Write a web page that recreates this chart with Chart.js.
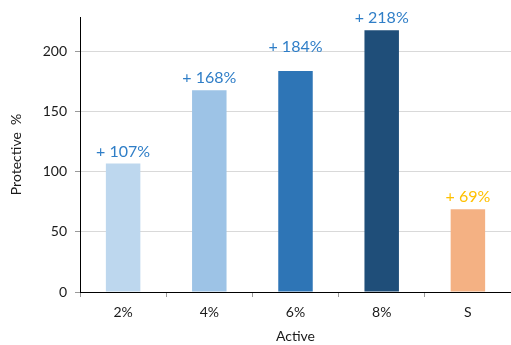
<!DOCTYPE html>
<html>
<head>
<meta charset="utf-8">
<script src="https://cdn.jsdelivr.net/npm/chart.js@4"></script>
<style>
  html, body { margin: 0; padding: 0; background: #fff; }
  #wrap { width: 511px; height: 345px; }
</style>
</head>
<body>
<div id="wrap"><canvas id="chart"></canvas></div>
<script>
const categories = ["2%", "4%", "6%", "8%", "S"];
const protective = [107, 168, 184, 218, 69];
const gainLabels = ["+ 107%", "+ 168%", "+ 184%", "+ 218%", "+ 69%"];
const yTicks = [0, 50, 100, 150, 200];

const barColors = ["#BDD7EE", "#9DC3E6", "#2E75B6", "#1F4E79", "#F4B183"];
const labelColors = ["#2F7EC7", "#2F7EC7", "#2F7EC7", "#2F7EC7", "#FFC000"];
// the 6% label sits a little higher than the others
const labelLift = [0, 0, 12, 0, 0];

const FONT = "Lato, 'Open Sans', sans-serif";

const barLabels = {
  id: "barLabels",
  afterDatasetsDraw(chart) {
    const ctx = chart.ctx;
    const meta = chart.getDatasetMeta(0);
    ctx.save();
    ctx.font = "16px " + FONT;
    ctx.textAlign = "center";
    ctx.textBaseline = "bottom";
    meta.data.forEach((bar, i) => {
      ctx.fillStyle = labelColors[i];
      ctx.fillText(gainLabels[i], bar.x, bar.y - 4 - labelLift[i]);
    });
    ctx.restore();
  }
};

new Chart(document.getElementById("chart"), {
  type: "bar",
  data: {
    labels: categories,
    datasets: [{
      data: protective,
      backgroundColor: barColors,
      borderWidth: 0,
      categoryPercentage: 1,
      barPercentage: 0.4
    }]
  },
  options: {
    responsive: true,
    maintainAspectRatio: false,
    animation: false,
    layout: { padding: { top: 17, right: 0, left: 0, bottom: 0 } },
    plugins: { legend: { display: false }, tooltip: { enabled: false } },
    scales: {
      x: {
        border: { color: "#000", width: 1 },
        grid: {
          offset: true,
          drawOnChartArea: false,
          tickLength: 5,
          tickColor: "#999"
        },
        ticks: { color: "#1a1a1a", font: { family: FONT, size: 14 }, padding: 7 },
        title: {
          display: true,
          text: "Active",
          color: "#1a1a1a",
          font: { family: FONT, size: 14 },
          padding: { top: 5, bottom: 0 }
        },
        afterFit(scale) { scale.height = 53; }
      },
      y: {
        min: 0,
        max: 229,
        border: { color: "#000", width: 1 },
        grid: { color: "#d9d9d9", tickLength: 5, tickColor: "#999" },
        afterBuildTicks(scale) {
          scale.ticks = yTicks.map(v => ({ value: v }));
        },
        ticks: { color: "#1a1a1a", font: { family: FONT, size: 14 }, padding: 8 },
        title: {
          display: true,
          text: "Protective  %",
          color: "#1a1a1a",
          font: { family: FONT, size: 14 },
          padding: { top: 8, bottom: 10 }
        },
        afterFit(scale) { scale.width = 80; }
      }
    }
  },
  plugins: [barLabels]
});
</script>
</body>
</html>
